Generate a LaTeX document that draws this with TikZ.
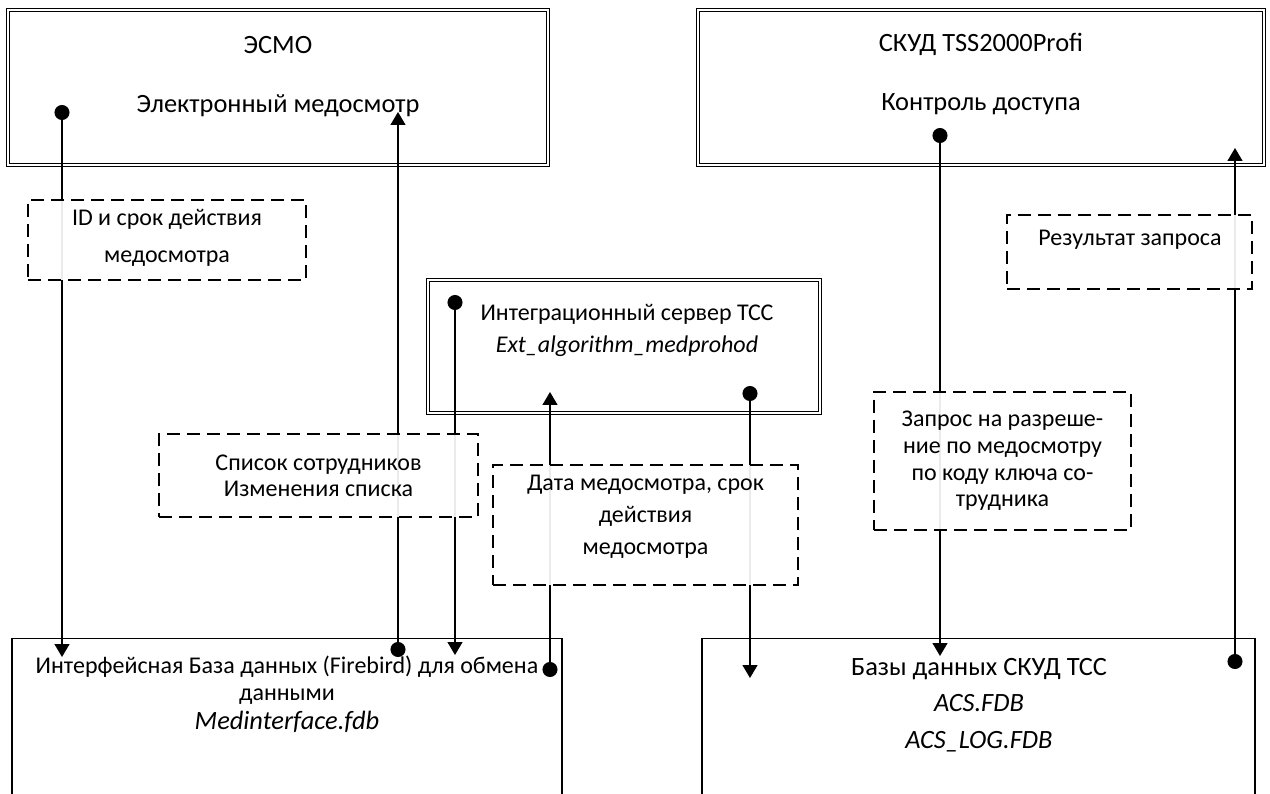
\documentclass[tikz,border=0pt]{standalone}
\usepackage{fontspec}
\setmainfont{Carlito}
\usetikzlibrary{arrows.meta,calc,positioning}
\tikzset{
  sysbox/.style={draw,double,double distance=1.6pt,line width=1.1pt,inner sep=0pt},
  dbbox/.style={draw,line width=1.3pt,inner sep=0pt},
  msgbox/.style={draw,dash pattern=on 13pt off 7pt,line width=1.3pt,
    fill=white,fill opacity=0.92,text opacity=1,align=center,inner sep=0pt,
    font=\fontsize{24}{26}\selectfont},
  flow/.style={{Circle[length=15pt]}-{Triangle[length=13pt,width=15pt]},line width=1.3pt},
  txt/.style={font=\fontsize{26.4}{30}\selectfont,inner sep=0pt,align=center},
  smalltxt/.style={font=\fontsize{24}{32}\selectfont,inner sep=0pt,align=center}
}

\begin{document}
\begin{tikzpicture}[x=1pt,y=-1pt]
  \useasboundingbox (0,0) rectangle (1270,794);
  % systems
  \node[sysbox,minimum width=540pt,minimum height=155pt] (esmo) at (278,87.5) {};
  \node[sysbox,minimum width=566pt,minimum height=155pt] (skud) at (981,87.5) {};
  \node[sysbox,minimum width=392pt,minimum height=133pt] (srv) at (624,346.5) {};
  \node[dbbox,minimum width=550pt,minimum height=190pt,anchor=north] (ifdb) at (287,638) {};
  \node[dbbox,minimum width=553pt,minimum height=190pt,anchor=north] (acsdb) at (978.5,638) {};
  \node[txt] (esmoname) at (278,45) {ЭСМО};
  \node[txt] (esmorole) at (278,106) {Электронный медосмотр};
  \node[txt] (skudname) at (981,44) {СКУД TSS2000Profi};
  \node[txt] (skudrole) at (981,104) {Контроль доступа};
  \node[smalltxt] (srvname) at (627,330)
    {Интеграционный сервер ТСС\\{\itshape Ext\_algorithm\_medprohod}};
  \node[smalltxt,anchor=north,font=\fontsize{24}{27}\selectfont] (ifdbname) at (287,656)
    {Интерфейсная База данных (Firebird) для обмена\\данными\\[2pt]{\fontsize{26.4}{28}\selectfont\itshape Medinterface.fdb}};
  \node[txt,anchor=north,font=\fontsize{26.4}{36.5}\selectfont] (acsname) at (979,658)
    {Базы данных СКУД ТСС\\{\itshape ACS.FDB}\\{\itshape ACS\_LOG.FDB}};
  % end points
  \coordinate (idout) at (62,105);   \coordinate (idin) at (62,657);
  \coordinate (listout) at (398,657); \coordinate (listin) at (398,112);
  \coordinate (chgout) at (455,295);  \coordinate (chgin) at (455,655);
  \coordinate (dateout) at (550,677); \coordinate (datein) at (550,392);
  \coordinate (medout) at (750,386);  \coordinate (medin) at (750,678);
  \coordinate (reqout) at (940,128);  \coordinate (reqin) at (940,656);
  \coordinate (resout) at (1235,669); \coordinate (resin) at (1235,148);
  \draw[flow] (idout) -- (idin);
  \draw[flow] (listout) -- (listin);
  \draw[flow] (chgout) -- (chgin);
  \draw[flow] (dateout) -- (datein);
  \draw[flow] (medout) -- (medin);
  \draw[flow] (reqout) -- (reqin);
  \draw[flow] (resout) -- (resin);
  % messages
  \node[msgbox,minimum width=278pt,minimum height=80pt,
    font=\fontsize{24}{37}\selectfont] (idmsg) at (167,240)
    {\mbox{}\\[-25pt]ID и срок действия\\медосмотра};
  \node[msgbox,minimum width=245pt,minimum height=74pt] (resmsg) at (1129.5,252) {};
  \node[smalltxt] (restxt) at (1130,240) {Результат запроса};
  \node[msgbox,minimum width=319pt,minimum height=83pt] (listmsg) at (318.5,475.5)
    {Список сотрудников\\Изменения списка};
  \node[msgbox,minimum width=305pt,minimum height=120pt,
    font=\fontsize{24}{32}\selectfont] (datemsg) at (645.5,525)
    {Дата медосмотра, срок\\действия\\медосмотра\\[-12pt]\mbox{}};
  \node[msgbox,minimum width=257pt,minimum height=138pt,
    font=\fontsize{24}{26.7}\selectfont] (reqmsg) at (1002.5,461)
    {Запрос на разреше-\\ние по медосмотру\\по коду ключа со-\\трудника};
\end{tikzpicture}
\end{document}
